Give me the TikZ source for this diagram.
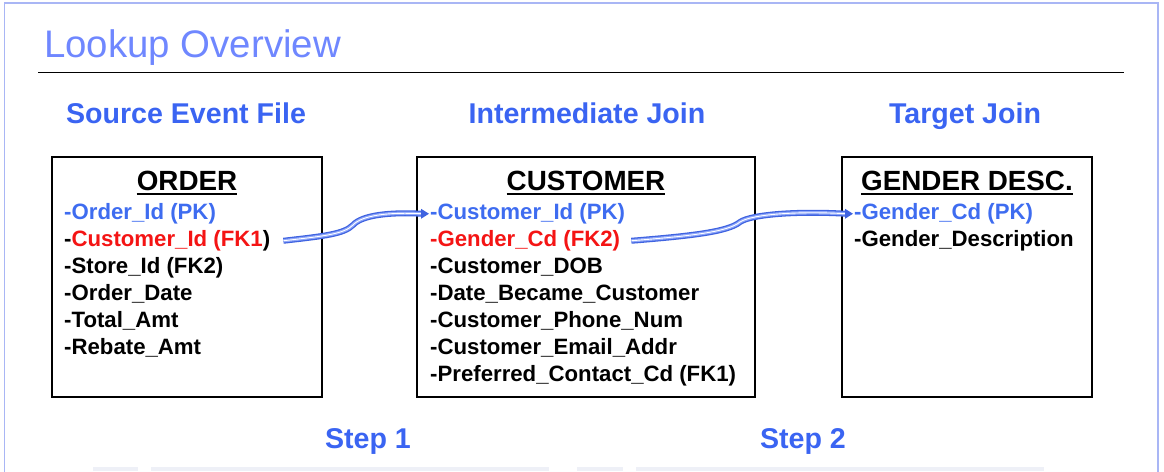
\documentclass[tikz,border=0pt]{standalone}
\usepackage{fontspec}
\setmainfont{Liberation Sans}
\usetikzlibrary{arrows.meta}
\definecolor{framecol}{HTML}{A9B6F5}
\definecolor{titleblue}{HTML}{6F87FF}
\definecolor{headblue}{HTML}{3A64F2}
\definecolor{pkblue}{HTML}{3E6CF0}
\definecolor{fkred}{HTML}{F41414}
\definecolor{ribbon}{HTML}{3F63E0}
\definecolor{ribbonlight}{HTML}{8FA7FA}
\definecolor{fadebar}{HTML}{EEF0F7}
\begin{document}
\begin{tikzpicture}[x=1pt,y=-1pt,
  tablebox/.style={draw=black,line width=2.6pt},
  rowtext/.style={anchor=base west,inner sep=0pt,font=\fontsize{22.2}{26}\selectfont\bfseries},
  tabletitle/.style={anchor=base,inner sep=0pt,font=\fontsize{27.8}{32}\selectfont\bfseries},
  heading/.style={anchor=base,inner sep=0pt,text=headblue,font=\fontsize{28.6}{33}\selectfont\bfseries},
  ribbonline/.style={line width=6pt,draw=ribbon},
  ribbonmid/.style={line width=3.4pt,draw=ribbonlight},
  ribbonhi/.style={line width=0.9pt,draw=white}]
\useasboundingbox (0,0) rectangle (1164,471);
% slide frame
\draw[draw=framecol,line width=1.3pt] (4.5,3) rectangle (1158,490);
\fill[fadebar] (93,467) rectangle (138,471);
\fill[fadebar] (151,467) rectangle (549,471);
\fill[fadebar] (577,467) rectangle (623,471);
\fill[fadebar] (636,467) rectangle (1044,471);
% title
\node[anchor=base west,inner sep=0pt,text=titleblue,font=\fontsize{38.4}{44}\selectfont] (title) at (44,57) {Lookup Overview};
\coordinate (rulel) at (38,72);
\coordinate (ruler) at (1124,72);
\draw[line width=1pt] (rulel) -- (ruler);
% headings
\node[heading] (h1) at (186,123) {Source Event File};
\node[heading] (h2) at (587,123) {Intermediate Join};
\node[heading] (h3) at (965,123) {Target Join};
\node[heading] (s1) at (368,448) {Step 1};
\node[heading] (s2) at (803,448) {Step 2};
% boxes
\draw[tablebox] (52,157) rectangle (322,397);
\draw[tablebox] (417,157) rectangle (755,397);
\draw[tablebox] (842,157) rectangle (1092,397);
% ORDER
\node[tabletitle] (t1) at (187,190) {ORDER};
\node[rowtext,text=pkblue] (o1) at (64,219) {-Order\_Id (PK)};
\node[rowtext] (o2) at (64,246) {-\textcolor{fkred}{Customer\_Id (FK1})};
\node[rowtext] (o3) at (64,273) {-Store\_Id (FK2)};
\node[rowtext] (o4) at (64,300) {-Order\_Date};
\node[rowtext] (o5) at (64,327) {-Total\_Amt};
\node[rowtext] (o6) at (64,354) {-Rebate\_Amt};
% CUSTOMER
\node[tabletitle] (t2) at (586,190) {CUSTOMER};
\node[rowtext,text=pkblue] (c1) at (430,219) {-Customer\_Id (PK)};
\node[rowtext,text=fkred] (c2) at (430,246) {-Gender\_Cd (FK2)};
\node[rowtext] (c3) at (430,273) {-Customer\_DOB};
\node[rowtext] (c4) at (430,300) {-Date\_Became\_Customer};
\node[rowtext] (c5) at (430,327) {-Customer\_Phone\_Num};
\node[rowtext] (c6) at (430,354) {-Customer\_Email\_Addr};
\node[rowtext] (c7) at (430,381) {-Preferred\_Contact\_Cd (FK1)};
% GENDER
\node[tabletitle] (t3) at (967,190) {GENDER DESC.};
\node[rowtext,text=pkblue] (g1) at (854,219) {-Gender\_Cd (PK)};
\node[rowtext] (g2) at (854,246) {-Gender\_Description};
% underlines
\foreach \t in {t1,t2,t3}{
  \draw[line width=2pt] ([yshift=-4pt]\t.base west) -- ([yshift=-4pt]\t.base east);
}
% arrows
\coordinate (a1s) at ([xshift=13pt,yshift=-0.5pt]o2.east);
\coordinate (a1e) at ([xshift=-8pt,yshift=-0.5pt]c1.west);
\coordinate (a2s) at ([xshift=11pt,yshift=-0.5pt]c2.east);
\coordinate (a2e) at ([xshift=-8pt,yshift=-0.5pt]g1.west);
\foreach \st in {ribbonline,ribbonmid,ribbonhi}{
  \draw[\st] (a1s) .. controls (325,236) and (344,234) .. (353,225)
     .. controls (362,215) and (390,212) .. (a1e);
  \draw[\st] (a2s) .. controls (690,236) and (728,232) .. (740,222)
     .. controls (752,214) and (800,211) .. (a2e);
}
\fill[ribbon] ([xshift=-9pt,yshift=-5.5pt]c1.west) -- ([xshift=-1pt,yshift=-0.5pt]c1.west) -- ([xshift=-9pt,yshift=4.5pt]c1.west) -- cycle;
\fill[ribbon] ([xshift=-9pt,yshift=-5.5pt]g1.west) -- ([xshift=-1pt,yshift=-0.5pt]g1.west) -- ([xshift=-9pt,yshift=4.5pt]g1.west) -- cycle;
\end{tikzpicture}
\end{document}
